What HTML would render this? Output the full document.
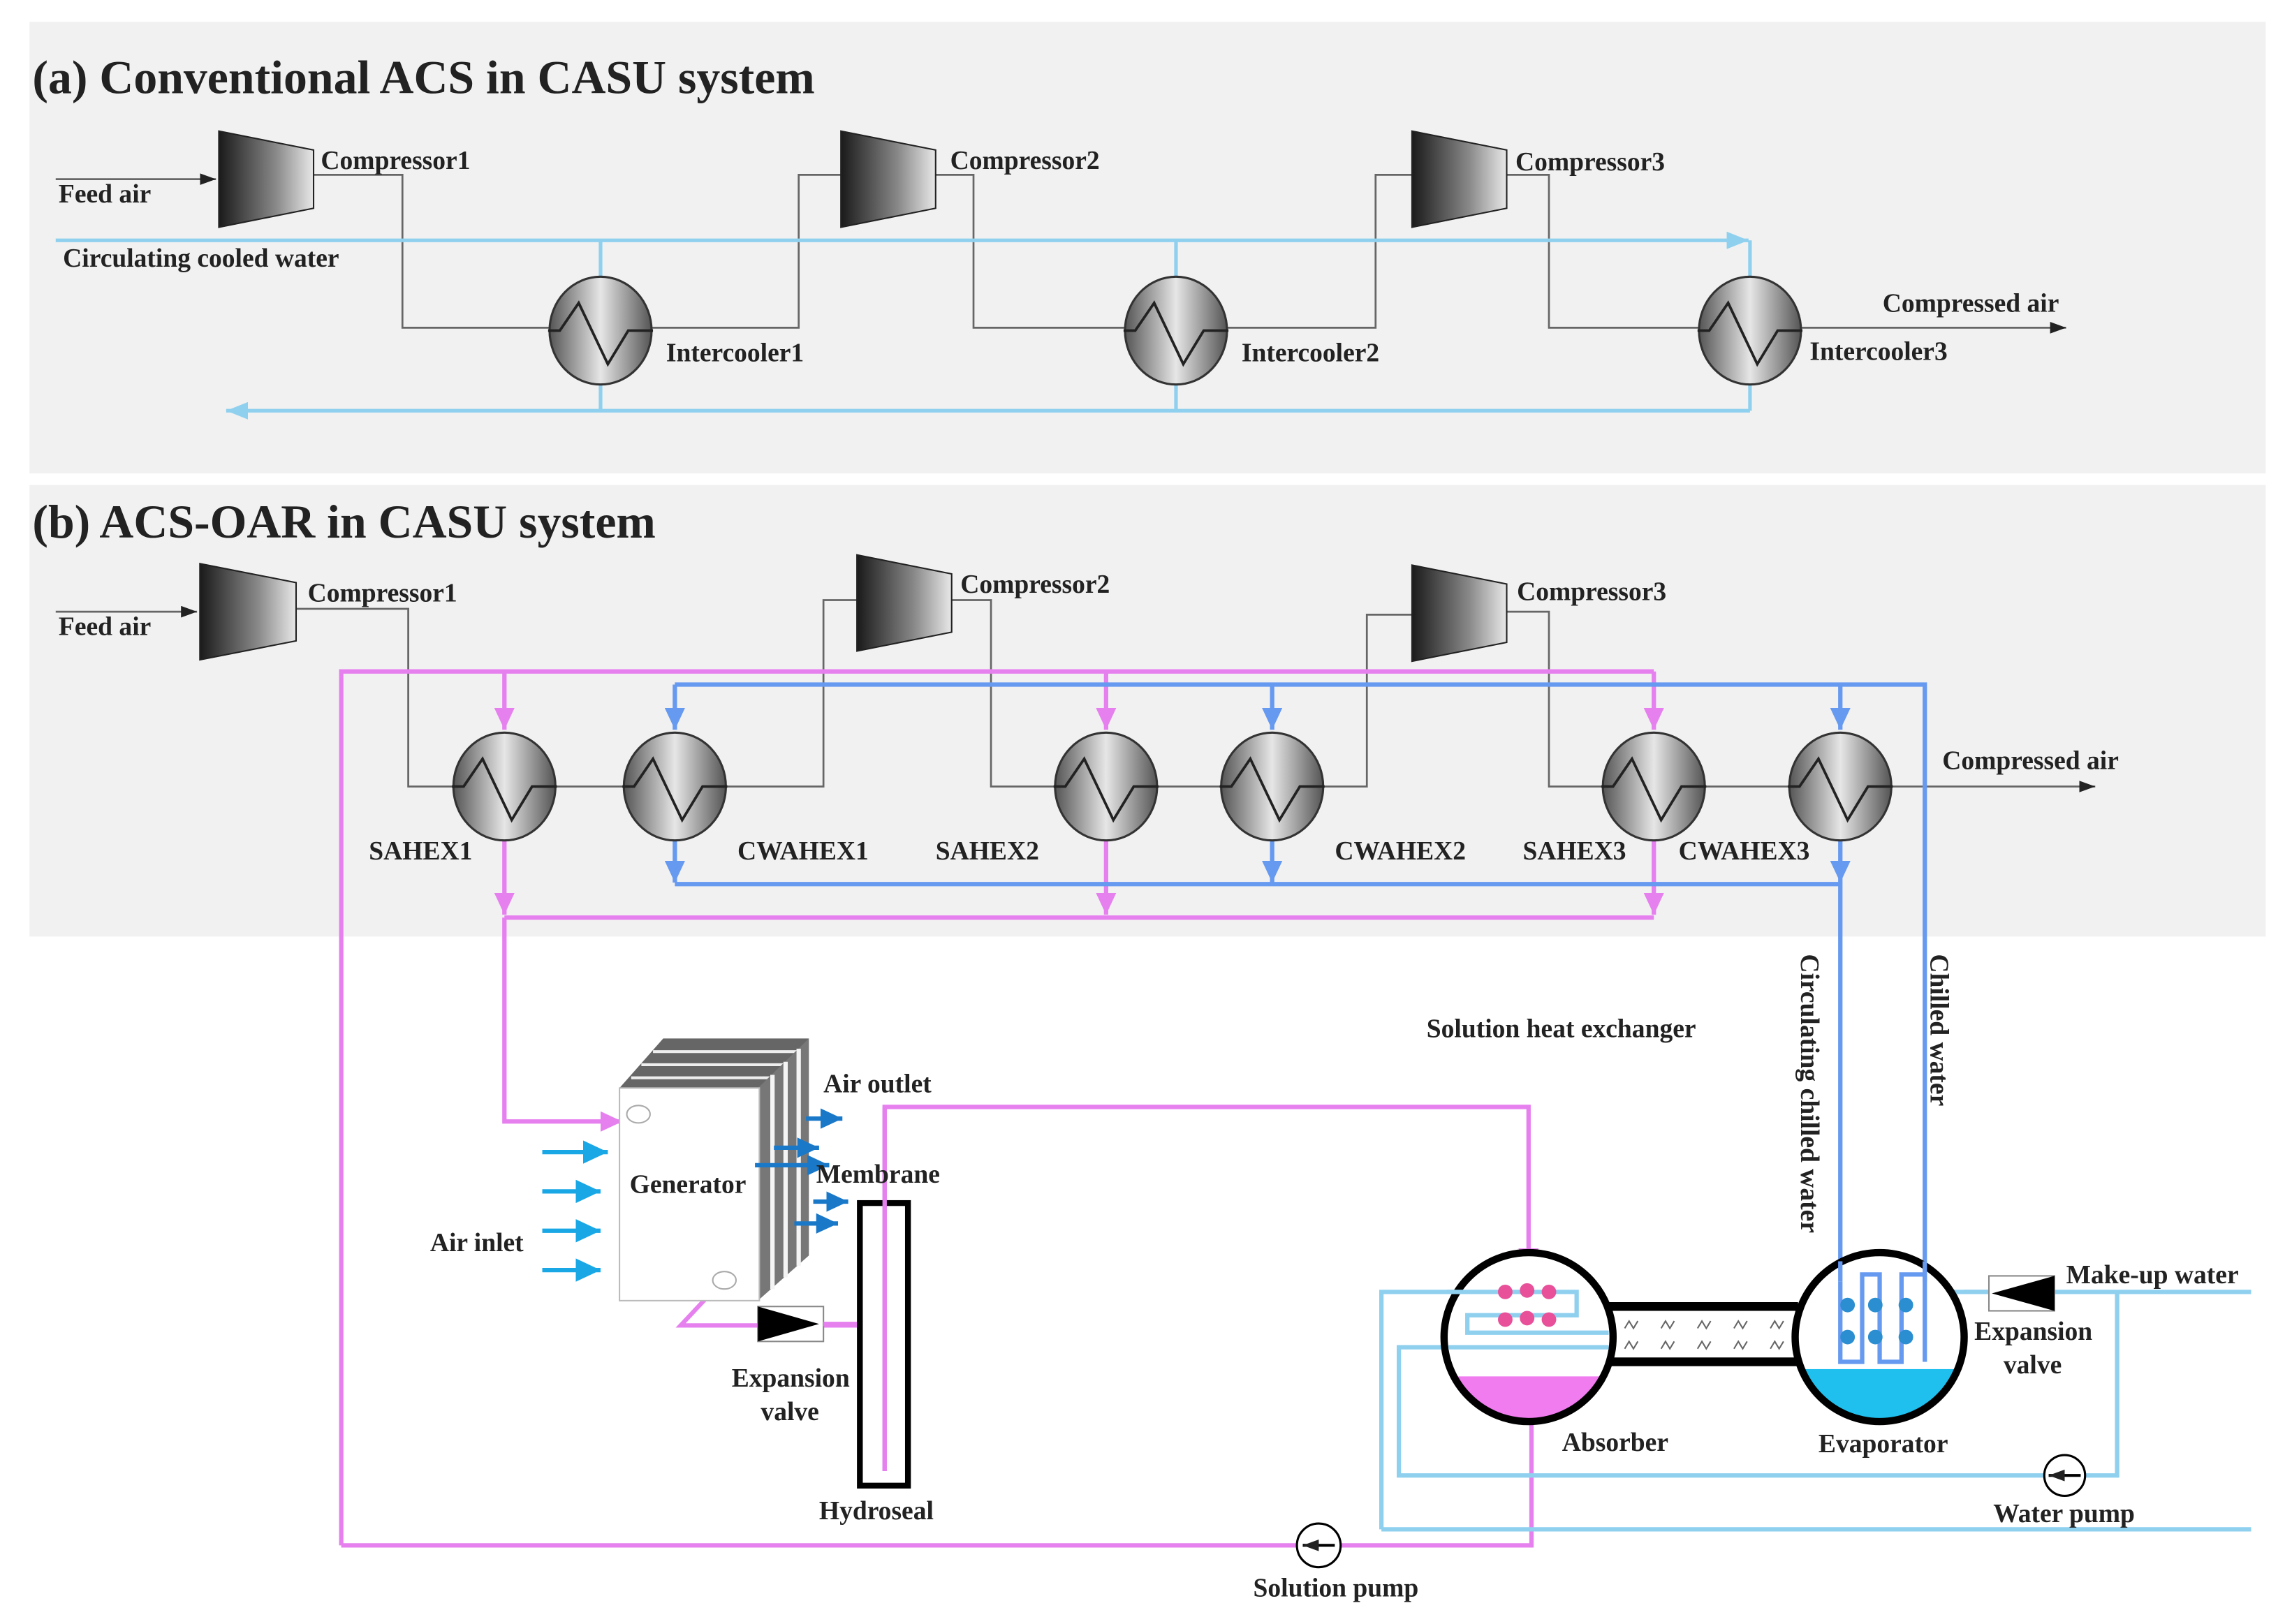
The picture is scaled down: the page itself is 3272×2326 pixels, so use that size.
<!DOCTYPE html>
<html><head><meta charset="utf-8"><style>
html,body{margin:0;padding:0;background:#fff;}
svg{display:block;}
text{font-family:"Liberation Serif",serif;font-weight:bold;fill:#222;}
</style></head><body>
<svg width="3272" height="2326" viewBox="0 0 1568 1115" xmlns="http://www.w3.org/2000/svg">
<defs>
<linearGradient id="cg" x1="0" x2="1" y1="0" y2="0"><stop offset="0" stop-color="#1a1a1a"/><stop offset="0.6" stop-color="#888"/><stop offset="1" stop-color="#e8e8e8"/></linearGradient>
<linearGradient id="hg" x1="0" x2="1" y1="0" y2="0"><stop offset="0" stop-color="#555"/><stop offset="0.5" stop-color="#e6e6e6"/><stop offset="1" stop-color="#555"/></linearGradient>
<g id="hx"><ellipse cx="0" cy="0" rx="35" ry="37" fill="url(#hg)" stroke="#333" stroke-width="1.5"/><path d="M-36,0 L-28,0 L-15,-19 L5,23 L19,0 L36,0" fill="none" stroke="#222" stroke-width="1.8"/></g>
<clipPath id="cA"><ellipse cx="1049" cy="918" rx="56" ry="56"/></clipPath>
<clipPath id="cE"><ellipse cx="1290" cy="918" rx="56" ry="56"/></clipPath>
<marker id="ak" markerUnits="userSpaceOnUse" markerWidth="12" markerHeight="10" refX="11" refY="4" orient="auto"><path d="M0,0 L11,4 L0,8z" fill="#222"/></marker>
<marker id="al" markerUnits="userSpaceOnUse" markerWidth="16" markerHeight="12" refX="15" refY="6" orient="auto"><path d="M0,0 L15,6 L0,12z" fill="#8fd0ef"/></marker>
<marker id="am" markerUnits="userSpaceOnUse" markerWidth="16" markerHeight="14" refX="15" refY="7" orient="auto"><path d="M0,0 L15,7 L0,14z" fill="#e680ef"/></marker>
<marker id="ab" markerUnits="userSpaceOnUse" markerWidth="16" markerHeight="14" refX="15" refY="7" orient="auto"><path d="M0,0 L15,7 L0,14z" fill="#6699f0"/></marker>
<marker id="ac" markerUnits="userSpaceOnUse" markerWidth="18" markerHeight="16" refX="17" refY="8" orient="auto"><path d="M0,0 L17,8 L0,16z" fill="#1aa7e6"/></marker>
<marker id="ad" markerUnits="userSpaceOnUse" markerWidth="16" markerHeight="14" refX="15" refY="7" orient="auto"><path d="M0,0 L15,7 L0,14z" fill="#1a78c8"/></marker>
</defs>
<rect width="1568" height="1115" fill="#fff"/>
<rect x="20" y="15" width="1535" height="310" fill="#f1f1f1"/>
<rect x="20" y="333" width="1535" height="310" fill="#f1f1f1"/>

<!-- Panel a -->
<text x="22" y="64" font-size="32.5">(a) Conventional ACS in CASU system</text>
<g fill="none" stroke="#666" stroke-width="1.3">
<path d="M38,123 L148,123" marker-end="url(#ak)"/>
<path d="M215,120 L276,120 L276,225 L377,225"/>
<path d="M447,225 L548,225 L548,120 L577,120"/>
<path d="M642,120 L668,120 L668,225 L772,225"/>
<path d="M842,225 L944,225 L944,120 L969,120"/>
<path d="M1034,120 L1063,120 L1063,225 L1166,225"/>
<path d="M1236,225 L1418,225" marker-end="url(#ak)"/>
</g>
<g fill="none" stroke="#8fd0ef" stroke-width="2.5">
<path d="M38,165 L1200,165" marker-end="url(#al)"/>
<path d="M412,165 L412,282 M807,165 L807,282 M1201,165 L1201,282"/>
<path d="M1201,282 L155,282" marker-end="url(#al)"/>
</g>
<polygon points="150,90 215,103 215,143 150,156" fill="url(#cg)" stroke="#222"/>
<polygon points="577,90 642,103 642,143 577,156" fill="url(#cg)" stroke="#222"/>
<polygon points="969,90 1034,103 1034,143 969,156" fill="url(#cg)" stroke="#222"/>
<use href="#hx" x="412" y="227"/><use href="#hx" x="807" y="227"/><use href="#hx" x="1201" y="227"/>
<g font-size="18">
<text x="220" y="116">Compressor1</text><text x="652" y="116">Compressor2</text><text x="1040" y="117">Compressor3</text>
<text x="457" y="248">Intercooler1</text><text x="852" y="248">Intercooler2</text><text x="1242" y="247">Intercooler3</text>
<text x="40" y="139">Feed air</text><text x="43" y="183">Circulating cooled water</text><text x="1292" y="214">Compressed air</text>
</g>

<!-- Panel b -->
<text x="22" y="369" font-size="32.5">(b) ACS-OAR in CASU system</text>
<g fill="none" stroke="#666" stroke-width="1.3">
<path d="M38,420 L135,420" marker-end="url(#ak)"/>
<path d="M203,418 L280,418 L280,540 L311,540"/>
<path d="M381,540 L428,540 M498,540 L565,540 L565,412 L588,412"/>
<path d="M653,412 L680,412 L680,540 L724,540"/>
<path d="M794,540 L838,540 M908,540 L938,540 L938,422 L969,422"/>
<path d="M1034,420 L1063,420 L1063,540 L1100,540"/>
<path d="M1170,540 L1228,540 M1298,540 L1438,540" marker-end="url(#ak)"/>
</g>
<g fill="none" stroke="#e680ef" stroke-width="3">
<path d="M234,1061 L234,461 L1135,461"/>
<path d="M346,461 L346,501" marker-end="url(#am)"/>
<path d="M759,461 L759,501" marker-end="url(#am)"/>
<path d="M1135,461 L1135,501" marker-end="url(#am)"/>
<path d="M346,577 L346,628" marker-end="url(#am)"/>
<path d="M759,577 L759,628" marker-end="url(#am)"/>
<path d="M1135,577 L1135,628" marker-end="url(#am)"/>
<path d="M346,630 L1135,630"/>
<path d="M346,630 L346,770 L427,770" marker-end="url(#am)"/>
<path d="M234,1061 L1051,1061 L1051,975"/>
<path d="M607,1010 L607,760 L1049,760 L1049,872" marker-end="url(#am)"/>
<path d="M497,878 L467,910 L590,910"/>
</g>
<g fill="none" stroke="#6699f0" stroke-width="3">
<path d="M463,470 L1321,470 L1321,866"/>
<path d="M463,470 L463,501" marker-end="url(#ab)"/>
<path d="M873,470 L873,501" marker-end="url(#ab)"/>
<path d="M1263,470 L1263,501" marker-end="url(#ab)"/>
<path d="M463,577 L463,606" marker-end="url(#ab)"/>
<path d="M873,577 L873,606" marker-end="url(#ab)"/>
<path d="M1263,577 L1263,606" marker-end="url(#ab)"/>
<path d="M463,607 L1263,607 L1263,866"/>
</g>
<polygon points="137,387 203,400 203,440 137,453" fill="url(#cg)" stroke="#222"/>
<polygon points="588,381 653,394 653,434 588,447" fill="url(#cg)" stroke="#222"/>
<polygon points="969,388 1034,401 1034,441 969,454" fill="url(#cg)" stroke="#222"/>
<use href="#hx" x="346" y="540"/><use href="#hx" x="463" y="540"/><use href="#hx" x="759" y="540"/>
<use href="#hx" x="873" y="540"/><use href="#hx" x="1135" y="540"/><use href="#hx" x="1263" y="540"/>
<g font-size="18">
<text x="211" y="413">Compressor1</text><text x="659" y="407">Compressor2</text><text x="1041" y="412">Compressor3</text>
<text x="40" y="436">Feed air</text><text x="1333" y="528">Compressed air</text>
<text x="253" y="590">SAHEX1</text><text x="506" y="590">CWAHEX1</text><text x="642" y="590">SAHEX2</text>
<text x="916" y="590">CWAHEX2</text><text x="1045" y="590">SAHEX3</text><text x="1152" y="590">CWAHEX3</text>
<text x="979" y="712">Solution heat exchanger</text>
<text transform="translate(1236,655) rotate(90)">Circulating chilled water</text>
<text transform="translate(1325,655) rotate(90)">Chilled water</text>
</g>

<!-- Generator -->
<polygon points="425,747 455,713 555,713 525,747" fill="#666"/>
<g stroke="#eee" stroke-width="2"><line x1="448" y1="722" x2="548" y2="722"/><line x1="440" y1="731" x2="540" y2="731"/><line x1="433" y1="740" x2="532" y2="740"/></g>
<polygon points="520,747 555,713 555,862 520,893" fill="#777"/>
<g stroke="#f4f4f4" stroke-width="3"><line x1="530" y1="738" x2="530" y2="885"/><line x1="539" y1="729" x2="539" y2="877"/><line x1="548" y1="720" x2="548" y2="869"/></g>
<rect x="425" y="747" width="96" height="146" fill="#fff" stroke="#bbb"/>
<ellipse cx="438" cy="765" rx="8" ry="6" fill="none" stroke="#aaa"/>
<ellipse cx="497" cy="879" rx="8" ry="6" fill="none" stroke="#aaa"/>
<g stroke="#1aa7e6" stroke-width="3"><path d="M372,791 L417,791" marker-end="url(#ac)"/><path d="M372,818 L412,818" marker-end="url(#ac)"/><path d="M372,845 L412,845" marker-end="url(#ac)"/><path d="M372,872 L412,872" marker-end="url(#ac)"/></g>
<g stroke="#1a78c8" stroke-width="3"><path d="M553,768 L578,768" marker-end="url(#ad)"/><path d="M531,788 L562,788" marker-end="url(#ad)"/><path d="M518,800 L569,800" marker-end="url(#ad)"/><path d="M558,825 L582,825" marker-end="url(#ad)"/><path d="M545,840 L575,840" marker-end="url(#ad)"/></g>
<rect x="520" y="897" width="45" height="24" fill="#fff" stroke="#888"/>
<polygon points="520,897 562,909 520,921" fill="#000"/>
<path d="M565,909 L592,909" stroke="#e680ef" stroke-width="3"/>
<rect x="590" y="826" width="33" height="194" fill="none" stroke="#000" stroke-width="4"/>
<path d="M607,1010 L607,760" stroke="#e680ef" stroke-width="3" fill="none"/>
<g font-size="18">
<text x="432" y="819">Generator</text><text x="295" y="859">Air inlet</text><text x="565" y="750">Air outlet</text><text x="560" y="812">Membrane</text>
<text x="502" y="952">Expansion</text><text x="522" y="975">valve</text><text x="562" y="1043">Hydroseal</text>
</g>

<!-- Absorber / Evaporator -->
<g fill="none" stroke="#8fd0ef" stroke-width="3">
<path d="M1545,887 L1330,887"/>
<path d="M1453,887 L1453,1013 L960,1013 L960,925 L1000,925"/>
<path d="M948,1050 L948,887 L1000,887 M948,1050 L1545,1050"/>
</g>
<path d="M1101,897 L1234,897 M1101,935 L1234,935" stroke="#000" stroke-width="6"/>
<rect x="1101" y="901" width="133" height="30" fill="#fff"/>
<g fill="none" stroke="#666" stroke-width="1">
<path d="M1115,912 l3,-5 l3,5 l3,-5 M1140,912 l3,-5 l3,5 l3,-5 M1165,912 l3,-5 l3,5 l3,-5 M1190,912 l3,-5 l3,5 l3,-5 M1215,912 l3,-5 l3,5 l3,-5"/>
<path d="M1115,926 l3,-5 l3,5 l3,-5 M1140,926 l3,-5 l3,5 l3,-5 M1165,926 l3,-5 l3,5 l3,-5 M1190,926 l3,-5 l3,5 l3,-5 M1215,926 l3,-5 l3,5 l3,-5"/>
</g>
<ellipse cx="1049" cy="918" rx="58" ry="58" fill="#fff"/>
<rect x="990" y="945" width="120" height="40" fill="#f07cf0" clip-path="url(#cA)"/>
<ellipse cx="1049" cy="918" rx="58" ry="58" fill="none" stroke="#000" stroke-width="5"/>
<g fill="none" stroke="#8fd0ef" stroke-width="3"><path d="M993,887 L1082,887 L1082,903 L1007,903 L1007,915 L1104,915 M994,925 L1104,925"/></g>
<g fill="#e8509a"><circle cx="1033" cy="887" r="5"/><circle cx="1048" cy="886" r="5"/><circle cx="1063" cy="887" r="5"/><circle cx="1033" cy="906" r="5"/><circle cx="1048" cy="905" r="5"/><circle cx="1063" cy="906" r="5"/></g>
<ellipse cx="1290" cy="918" rx="58" ry="58" fill="#fff"/>
<rect x="1230" y="940" width="120" height="40" fill="#1fbfee" clip-path="url(#cE)"/>
<ellipse cx="1290" cy="918" rx="58" ry="58" fill="none" stroke="#000" stroke-width="5"/>
<path d="M1263,866 L1263,880 M1321,866 L1321,880" stroke="#6699f0" stroke-width="3"/>
<path d="M1263,880 L1263,935 L1278,935 L1278,875 L1290,875 L1290,935 L1305,935 L1305,875 L1321,875 L1321,935" fill="none" stroke="#6699f0" stroke-width="3"/>
<g fill="#2a8ed0"><circle cx="1268" cy="896" r="5"/><circle cx="1287" cy="896" r="5"/><circle cx="1308" cy="896" r="5"/><circle cx="1268" cy="918" r="5"/><circle cx="1287" cy="918" r="5"/><circle cx="1308" cy="918" r="5"/></g>
<path d="M1348,887 L1365,887" stroke="#8fd0ef" stroke-width="3"/>
<rect x="1365" y="876" width="45" height="24" fill="#fff" stroke="#888"/>
<polygon points="1410,876 1367,888 1410,900" fill="#000"/>
<circle cx="1417" cy="1013" r="14" fill="#fff" stroke="#000" stroke-width="1.5"/>
<path d="M1428,1013 L1406,1013" stroke="#000" stroke-width="2" marker-end="url(#ak)"/>
<circle cx="905" cy="1061" r="15" fill="#fff" stroke="#000" stroke-width="1.5"/>
<path d="M916,1061 L894,1061" stroke="#000" stroke-width="2" marker-end="url(#ak)"/>
<g font-size="18">
<text x="1072" y="996">Absorber</text><text x="1248" y="997">Evaporator</text>
<text x="1418" y="881">Make-up water</text><text x="1355" y="920">Expansion</text><text x="1375" y="943">valve</text>
<text x="1368" y="1045">Water pump</text><text x="860" y="1096">Solution pump</text>
</g>
</svg>
</body></html>
